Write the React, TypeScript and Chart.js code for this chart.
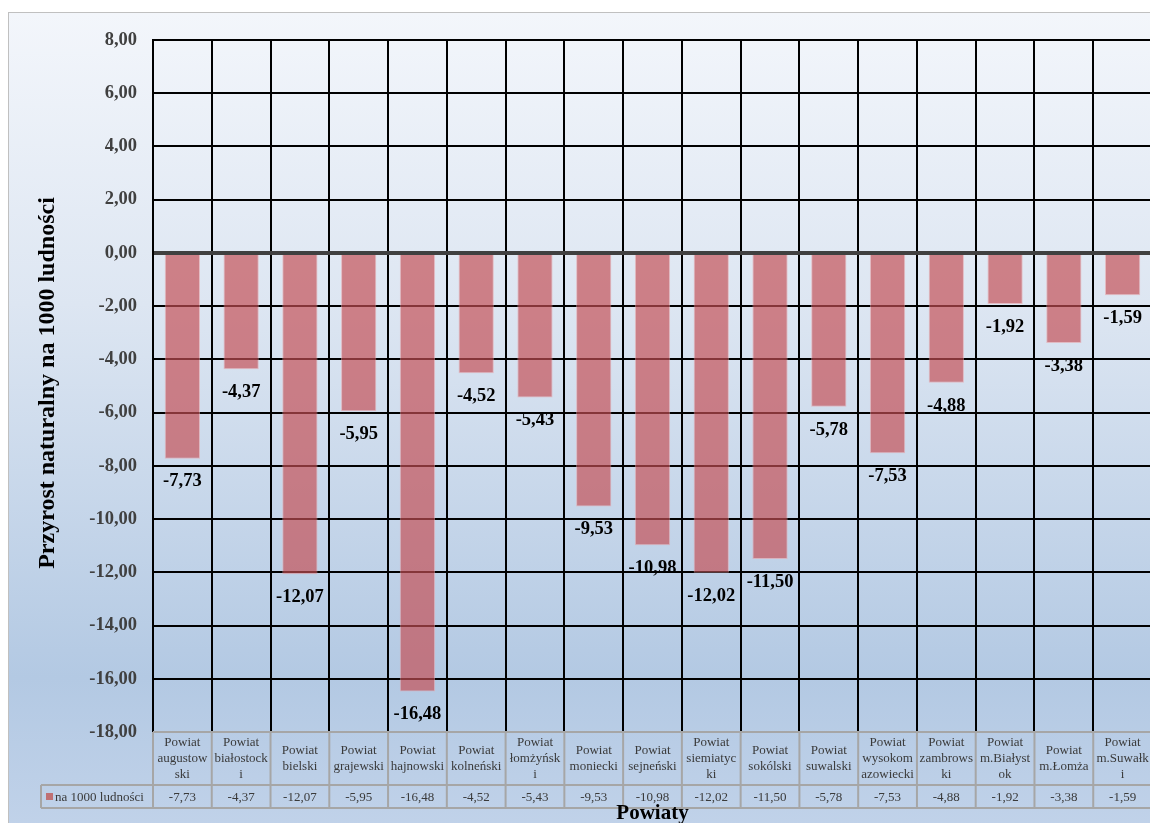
import React, { useEffect, useRef } from 'react';
import { Chart, registerables } from 'chart.js';

Chart.register(...registerables);

const categoryLines: string[][] = [
  ['Powiat', 'augustow', 'ski'],
  ['Powiat', 'białostock', 'i'],
  ['Powiat', 'bielski'],
  ['Powiat', 'grajewski'],
  ['Powiat', 'hajnowski'],
  ['Powiat', 'kolneński'],
  ['Powiat', 'łomżyńsk', 'i'],
  ['Powiat', 'moniecki'],
  ['Powiat', 'sejneński'],
  ['Powiat', 'siemiatyc', 'ki'],
  ['Powiat', 'sokólski'],
  ['Powiat', 'suwalski'],
  ['Powiat', 'wysokom', 'azowiecki'],
  ['Powiat', 'zambrows', 'ki'],
  ['Powiat', 'm.Białyst', 'ok'],
  ['Powiat', 'm.Łomża'],
  ['Powiat', 'm.Suwałk', 'i'],
];

const values: number[] = [
  -7.73, -4.37, -12.07, -5.95, -16.48, -4.52, -5.43, -9.53, -10.98, -12.02, -11.5, -5.78, -7.53,
  -4.88, -1.92, -3.38, -1.59,
];

const seriesName = 'na 1000 ludności';
const yTitle = 'Przyrost naturalny na 1000 ludności';
const xTitle = 'Powiaty';
const yMin = -18;
const yMax = 8;
const yStep = 2;

const SERIF = '"Liberation Serif", "Times New Roman", serif';
const fmt = (v: number) => v.toFixed(2).replace('.', ',');

const overlayPlugin = {
  id: 'overlay',
  afterDatasetsDraw(chart: any) {
    const ctx = chart.ctx;
    const meta = chart.getDatasetMeta(0);
    ctx.save();
    // data labels
    ctx.font = `bold 18.5px ${SERIF}`;
    ctx.fillStyle = '#000';
    ctx.textAlign = 'center';
    ctx.textBaseline = 'middle';
    meta.data.forEach((bar: any, i: number) => {
      ctx.fillText(fmt(values[i]), bar.x, bar.y + 23);
    });

    // data table
    const xs = chart.scales.x;
    const area = chart.chartArea;
    const n = values.length;
    const w = (xs.right - xs.left) / n;
    const top = area.bottom;
    const mid = top + 53;
    const bot = mid + 23;
    const legLeft = 41;
    ctx.strokeStyle = '#a6a6a6';
    ctx.lineWidth = 2;
    ctx.beginPath();
    ctx.moveTo(xs.left, top);
    ctx.lineTo(xs.right, top);
    ctx.moveTo(legLeft, mid);
    ctx.lineTo(xs.right, mid);
    ctx.moveTo(legLeft, bot);
    ctx.lineTo(xs.right, bot);
    ctx.moveTo(legLeft, mid);
    ctx.lineTo(legLeft, bot);
    for (let i = 0; i <= n; i++) {
      const x = xs.left + i * w;
      ctx.moveTo(x, top);
      ctx.lineTo(x, bot);
    }
    ctx.stroke();

    ctx.fillStyle = '#3a3a3a';
    ctx.font = `13px ${SERIF}`;
    ctx.textAlign = 'center';
    ctx.textBaseline = 'middle';
    const lh = 16;
    for (let i = 0; i < n; i++) {
      const cx = xs.getPixelForValue(i);
      const lines = categoryLines[i];
      const cy = (top + mid) / 2;
      const start = cy - ((lines.length - 1) * lh) / 2;
      lines.forEach((ln, k) => ctx.fillText(ln, cx, start + k * lh));
      ctx.fillText(fmt(values[i]), cx, (mid + bot) / 2 + 1);
    }
    // legend key
    ctx.fillStyle = 'rgba(192, 80, 77, 0.75)';
    ctx.fillRect(46, mid + 8, 7, 7);
    ctx.fillStyle = '#3a3a3a';
    ctx.textAlign = 'left';
    ctx.fillText(seriesName, 55, (mid + bot) / 2 + 1);

    // axis titles
    ctx.fillStyle = '#000';
    ctx.font = `bold 21px ${SERIF}`;
    ctx.textAlign = 'center';
    ctx.textBaseline = 'alphabetic';
    ctx.fillText(xTitle, (area.left + area.right) / 2, 819);

    ctx.save();
    ctx.translate(48, (area.top + area.bottom) / 2 - 3);
    ctx.rotate(-Math.PI / 2);
    ctx.font = `bold 24px ${SERIF}`;
    ctx.textBaseline = 'middle';
    ctx.fillText(yTitle, 0, 0);
    ctx.restore();

    ctx.restore();
  },
};

export default function App() {
  const ref = useRef<HTMLCanvasElement | null>(null);
  useEffect(() => {
    if (!ref.current) return;
    const chart = new Chart(ref.current, {
      type: 'bar',
      data: {
        labels: categoryLines.map((l) => l.join(' ')),
        datasets: [
          {
            label: seriesName,
            data: values,
            backgroundColor: 'rgba(196, 78, 84, 0.68)',
            borderColor: 'rgba(230, 160, 165, 0.6)',
            borderWidth: 1,
            barPercentage: 0.6,
            categoryPercentage: 1.0,
          },
        ],
      },
      options: {
        responsive: false,
        animation: false,
        devicePixelRatio: 1,
        layout: { padding: { left: 0, top: 40, right: 18, bottom: 91 } },
        plugins: {
          legend: { display: false },
          tooltip: { enabled: false },
          title: { display: false },
        },
        scales: {
          x: {
            ticks: { display: false },
            grid: { color: '#000', lineWidth: 2, drawTicks: false, offset: true },
            border: { display: false },
            afterFit: (s: any) => {
              s.height = 0;
            },
          },
          y: {
            min: yMin,
            max: yMax,
            ticks: {
              stepSize: yStep,
              padding: 16,
              color: '#404040',
              font: { family: SERIF, size: 18.5, weight: 'bold' },
              callback: (v: any) => fmt(Number(v)),
            },
            grid: {
              drawTicks: false,
              color: (c: any) =>
                c.tick && c.tick.value === yMin ? 'rgba(0,0,0,0)' : c.tick && c.tick.value === 0 ? '#404040' : '#000',
              lineWidth: (c: any) => (c.tick && c.tick.value === 0 ? 4 : 2),
            },
            border: { display: true, color: '#000', width: 2 },
            afterFit: (s: any) => {
              s.width = 153;
            },
          },
        },
      },
      plugins: [overlayPlugin],
    });
    return () => chart.destroy();
  }, []);

  return (
    <div
      style={{
        position: 'fixed',
        left: 0,
        top: 0,
        width: 1150,
        height: 823,
        overflow: 'hidden',
        background: '#fff',
      }}
    >
      <div
        style={{
          position: 'absolute',
          left: 8,
          top: 12,
          width: 1200,
          height: 830,
          border: '1px solid #c0c0c0',
          background: 'linear-gradient(to bottom, #f3f6fb 0%, #dde6f2 35%, #b3c9e3 80%, #c2d3ea 100%)',
        }}
      />
      <canvas
        ref={ref}
        width={1170}
        height={823}
        style={{ position: 'absolute', left: 0, top: 0, width: 1170, height: 823 }}
      />
    </div>
  );
}
